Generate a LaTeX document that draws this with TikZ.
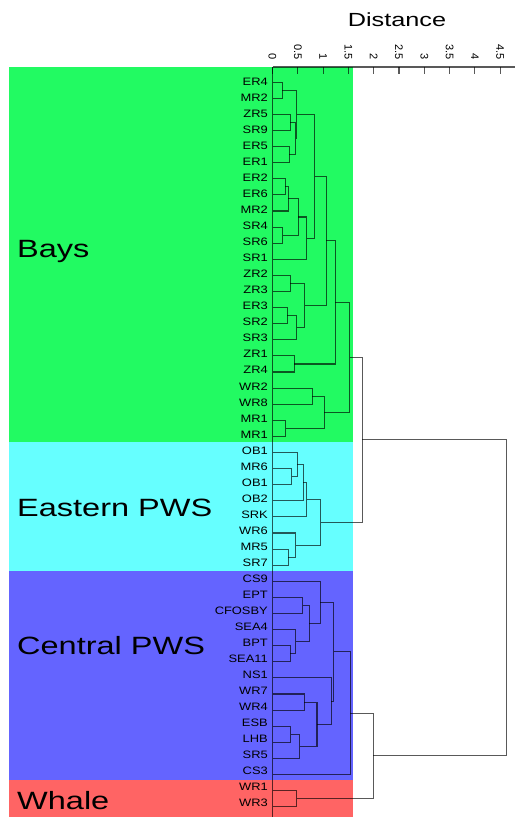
\documentclass[tikz,border=0pt]{standalone}
\usepackage{fontspec}
\setmainfont{Liberation Sans}
\newfontfamily\leaffont[FakeStretch=1.2]{Liberation Sans}
\newfontfamily\groupfont[FakeStretch=1.3]{Liberation Sans}
\newfontfamily\titlefont[FakeStretch=1.33]{Liberation Sans}
\usetikzlibrary{calc}

\definecolor{baysgreen}{RGB}{34,250,98}
\definecolor{eastcyan}{RGB}{102,255,255}
\definecolor{centblue}{RGB}{100,100,255}
\definecolor{whalered}{RGB}{255,100,100}

\tikzset{
	link/.style={black, draw opacity=0.65, line width=1.1pt},
	leaflab/.style={anchor=east, inner sep=0pt, font=\leaffont\fontsize{10.75}{12}\selectfont},
	grouplab/.style={anchor=base west, inner sep=0pt, font=\groupfont\fontsize{25}{29}\selectfont},
	ticklab/.style={rotate=-90, anchor=east, inner sep=0pt, font=\fontsize{11}{13}\selectfont}
}

% distance -> x position
\newcommand\dpos[1]{272.5+50.6*#1}
% cluster name, height, upper child, lower child
\newcommand\dmerge[4]{%
	\coordinate (#1m) at ($(#3)!.5!(#4)$);
	\coordinate (#1x) at ({\dpos{#2}},0);
	\coordinate (#1) at (#1x |- #1m);
	\draw[link] (#3) -| (#1 |- #4) -- (#4);
}

\begin{document}
\begin{tikzpicture}[x=1pt, y=-1pt]
	\useasboundingbox (0,0) rectangle (515,817);

	% groups
	\fill[baysgreen] (8.5,67) rectangle (353,442);
	\fill[eastcyan] (8.5,442) rectangle (353,570.6);
	\fill[centblue] (8.5,570.6) rectangle (353,779.5);
	\fill[whalered] (8.5,779.5) rectangle (353,817);

	% axis
	\node[font=\titlefont\fontsize{19}{23}\selectfont] (title) at (397,20) {Distance};
	\draw[link] (272.5,67) -- (515,67);
	\draw[link] (272.5,67) -- (272.5,817);
	\foreach \k [count=\j from 0] in {0,0.5,1,1.5,2,2.5,3,3.5,4,4.5} {
		\draw[link] ({\dpos{\k}},67) -- ({\dpos{\k}},74);
		\node[ticklab] (t\j) at ({\dpos{\k}},60) {\k};
	}

	% leaves
	\foreach \n [count=\i from 0] in {ER4,MR2,ZR5,SR9,ER5,ER1,ER2,ER6,MR2,SR4,SR6,SR1,ZR2,ZR3,ER3,SR2,SR3,ZR1,ZR4,WR2,WR8,MR1,MR1,OB1,MR6,OB1,OB2,SRK,WR6,MR5,SR7,CS9,EPT,CFOSBY,SEA4,BPT,SEA11,NS1,WR7,WR4,ESB,LHB,SR5,CS3,WR1,WR3} {
		\coordinate (l\i) at (272.5,{82.2+16.1*\i});
		\node[leaflab] (lab\i) at (268,{81.7+16.03*\i}) {\n};
	}

	% Bays
	\dmerge{a1}{0.19}{l0}{l1}
	\dmerge{a2}{0.35}{l2}{l3}
	\dmerge{a3}{0.33}{l4}{l5}
	\dmerge{a4}{0.46}{a2}{a3}
	\dmerge{a5}{0.48}{a1}{a4}
	\dmerge{b1}{0.25}{l6}{l7}
	\dmerge{b2}{0.31}{b1}{l8}
	\dmerge{b3}{0.20}{l9}{l10}
	\dmerge{b4}{0.51}{b2}{b3}
	\dmerge{b5}{0.68}{b4}{l11}
	\dmerge{c1}{0.83}{a5}{b5}
	\dmerge{d1}{0.35}{l12}{l13}
	\dmerge{d2}{0.29}{l14}{l15}
	\dmerge{d3}{0.48}{d2}{l16}
	\dmerge{d4}{0.64}{d1}{d3}
	\dmerge{c2}{1.06}{c1}{d4}
	\dmerge{e1}{0.43}{l17}{l18}
	\dmerge{c3}{1.24}{c2}{e1}
	\dmerge{f1}{0.79}{l19}{l20}
	\dmerge{f2}{0.26}{l21}{l22}
	\dmerge{f3}{1.02}{f1}{f2}
	\dmerge{bays}{1.53}{c3}{f3}

	% Eastern PWS
	\dmerge{g1}{0.38}{l24}{l25}
	\dmerge{g2}{0.49}{l23}{g1}
	\dmerge{g3}{0.61}{g2}{l26}
	\dmerge{g4}{0.68}{g3}{l27}
	\dmerge{g5}{0.31}{l29}{l30}
	\dmerge{g6}{0.46}{l28}{g5}
	\dmerge{east}{0.95}{g4}{g6}
	\dmerge{be}{1.77}{bays}{east}

	% Central PWS
	\dmerge{h1}{0.60}{l32}{l33}
	\dmerge{h2}{0.35}{l35}{l36}
	\dmerge{h3}{0.46}{l34}{h2}
	\dmerge{h4}{0.73}{h1}{h3}
	\dmerge{h5}{0.94}{l31}{h4}
	\dmerge{i1}{0.63}{l38}{l39}
	\dmerge{i2}{0.36}{l40}{l41}
	\dmerge{i3}{0.54}{i2}{l42}
	\dmerge{i4}{0.88}{i1}{i3}
	\dmerge{i5}{1.16}{l37}{i4}
	\dmerge{h6}{1.21}{h5}{i5}
	\dmerge{cent}{1.54}{h6}{l43}

	% Whale and root
	\dmerge{whale}{0.48}{l44}{l45}
	\dmerge{cw}{1.99}{cent}{whale}
	\dmerge{root}{4.63}{be}{cw}

	\node[grouplab] (bayslab) at (17,257) {Bays};
	\node[grouplab] (eastlab) at (17,516) {Eastern PWS};
	\node[grouplab] (centlab) at (17,654) {Central PWS};
	\node[grouplab] (whalelab) at (17,809) {Whale};
\end{tikzpicture}
\end{document}
